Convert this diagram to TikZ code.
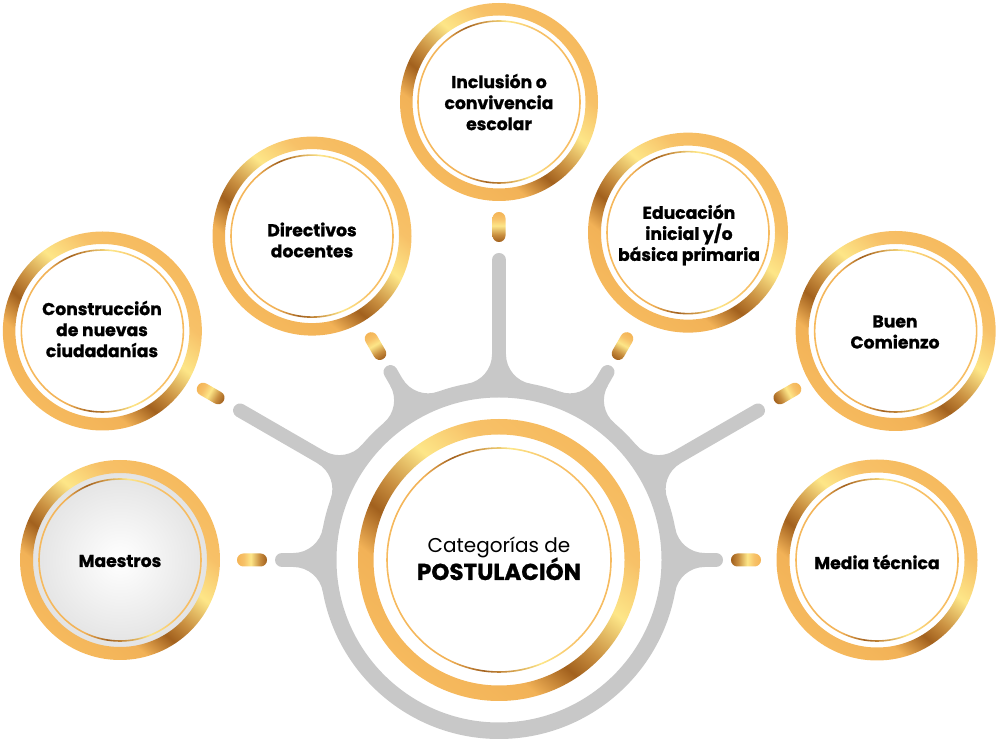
\documentclass[tikz,border=0pt]{standalone}
\usepackage{fontspec}
\setmainfont{Poppins}[BoldFeatures={FakeBold=1}]
\usetikzlibrary{calc}
\definecolor{ringgrey}{HTML}{C8C8C8}
\definecolor{gA}{HTML}{F6BA5E}
\definecolor{gB}{HTML}{F2B257}
\definecolor{gBr}{HTML}{A2611E}
\definecolor{gMid}{HTML}{C98F40}
\definecolor{gY}{HTML}{FDE688}
\definecolor{gC}{HTML}{F7C168}
\definecolor{gO}{HTML}{F3B253}
\pgfdeclarehorizontalshading{goldring}{100bp}{color(0bp)=(gA); color(25bp)=(gA); color(36bp)=(gB); color(43bp)=(gBr); color(48bp)=(gMid); color(56bp)=(gY); color(65bp)=(gC); color(75bp)=(gA); color(100bp)=(gA)}
\pgfdeclarehorizontalshading{goldcaps}{100bp}{color(0bp)=(gBr); color(27bp)=(gBr); color(38bp)=(gMid); color(52bp)=(gY); color(63bp)=(gC); color(75bp)=(gO); color(100bp)=(gO)}
\tikzset{
  lbl/.style={font=\bfseries\fontsize{17.2}{21}\selectfont, align=center, text=black, inner sep=0pt},
  spokeline/.style={ringgrey, line width=14pt, line cap=round},
}
\newcommand\greyspoke[2]{%
  \begin{scope}[shift={(C)},rotate=#1]
    \fill[ringgrey] (173,0) -- (205.70,7) arc[start angle=-90,end angle=-169.80,radius=30] -- cycle;
    \fill[ringgrey] (173,0) -- (205.70,-7) arc[start angle=90,end angle=169.80,radius=30] -- cycle;
    \draw[spokeline] (171,0) -- (#2,0);
  \end{scope}}
\newcommand\goldring[4]{%
  \shade[shading=goldring,shading angle=50,even odd rule] (#1) circle[radius=#2] (#1) circle[radius=#3];
  \shade[shading=goldring,shading angle=8,even odd rule] (#1) circle[radius=#4+0.8] (#1) circle[radius=#4-0.8];}
\newcommand\goldcap[4]{%
  \begin{scope}
    \clip[rounded corners=6.4pt] ($(C)+(#1:#2)+(#1+90:6.5)$) -- ($(C)+(#1:#3)+(#1+90:6.5)$) -- ($(C)+(#1:#3)+(#1-90:6.5)$) -- ($(C)+(#1:#2)+(#1-90:6.5)$) -- cycle;
    \shade[shading=goldcaps,shading angle=#1] ($(C)+(#1:#4)$) circle[radius=16];
  \end{scope}}
\begin{document}
\begin{tikzpicture}[x=1pt,y=1pt]
\useasboundingbox (0,0) rectangle (1000,738);
\coordinate (C) at (499,178);
\coordinate (Pmae) at ($(C)+(180:379)$);
\coordinate (Pcon) at ($(C)+(150:458)$);
\coordinate (Pdir) at ($(C)+(120:374)$);
\coordinate (Pinc) at ($(C)+(90:458)$);
\coordinate (Pedu) at ($(C)+(60:378)$);
\coordinate (Pbue) at ($(C)+(30:458)$);
\coordinate (Pmed) at ($(C)+(0:378)$);
% grey network
\draw[ringgrey,line width=16.5pt] (C) circle[radius=170.75];
\greyspoke{180}{217}
\greyspoke{150}{299}
\greyspoke{120}{217}
\greyspoke{90}{300}
\greyspoke{60}{217}
\greyspoke{30}{299}
\greyspoke{0}{217}
% Maestros fill
\shade[inner color=white,outer color=black!11] (Pmae) circle[radius=88];
% gold rings
\goldring{C}{141}{125.5}{112}
\goldring{Pmae}{100}{87}{81}
\goldring{Pcon}{99.5}{87}{81}
\goldring{Pdir}{99.5}{87}{81}
\goldring{Pinc}{99}{86.5}{81}
\goldring{Pedu}{100}{87}{81}
\goldring{Pbue}{100}{87}{81}
\goldring{Pmed}{100.5}{87.5}{81}
% capsules
\goldcap{180}{232}{262}{247}
\goldcap{150}{318}{348}{333}
\goldcap{120}{232}{262}{247}
\goldcap{90}{318}{348}{333}
\goldcap{60}{232}{262}{247}
\goldcap{30}{318}{348}{333}
\goldcap{0}{232}{262}{247}
% labels
\node[lbl] (tmae) at (120,177) {Maestros};
\node[lbl] (tcon) at (102,409) {Construcción\\de nuevas\\ciudadanías};
\node[lbl] (tdir) at (312,498) {Directivos\\docentes};
\node[lbl] (tinc) at (499,636) {Inclusión o\\convivencia\\escolar};
\node[lbl] (tedu) at (689,503) {Educación\\inicial y/o\\básica primaria};
\node[lbl] (tbue) at (895,406) {Buen\\Comienzo};
\node[lbl] (tmed) at (877,176) {Media técnica};
\node[anchor=base,inner sep=0pt,font=\fontsize{20}{24}\selectfont] (tcat) at (499,185) {Categorías de};
\node[anchor=base,inner sep=0pt,font=\bfseries\fontsize{23}{24}\selectfont] (tpos) at (499,158) {POSTULACIÓN};
\end{tikzpicture}
\end{document}
